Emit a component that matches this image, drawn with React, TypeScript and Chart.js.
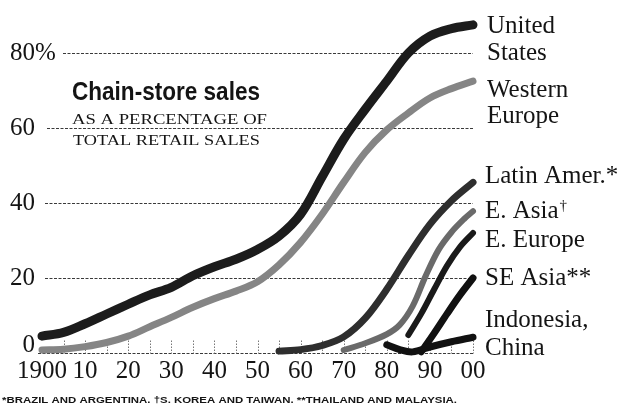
import React, { useEffect, useRef } from "react";
import { Chart, registerables } from "chart.js";

Chart.register(...registerables);

// ---- data (percent of total retail sales) ----
const usYears = [1900, 1905, 1910, 1915, 1920, 1925, 1930, 1935, 1940, 1945, 1950, 1955, 1960, 1965, 1970, 1975, 1980, 1985, 1990, 1995, 2000];
const usValues = [4.5, 5.5, 7.8, 10.4, 13, 15.5, 17.5, 20.6, 23, 25, 27.6, 31.2, 37, 47, 57, 65, 72.5, 80, 84.5, 86.5, 87.5];

const weYears = [1900, 1905, 1910, 1915, 1920, 1925, 1930, 1935, 1940, 1945, 1950, 1955, 1960, 1965, 1970, 1975, 1980, 1985, 1990, 1995, 2000];
const weValues = [0.8, 1, 1.7, 2.8, 4.5, 7, 9.5, 12.2, 14.5, 16.5, 19, 23.5, 29.5, 37, 45.5, 53.5, 59.5, 64, 68, 70.5, 72.5];

const latYears = [1955, 1960, 1965, 1970, 1975, 1980, 1985, 1990, 1995, 2000];
const latValues = [0.5, 0.9, 2, 4.3, 9.3, 17, 26, 34.3, 40.6, 45.5];

const eaYears = [1970, 1975, 1980, 1983, 1986, 1989, 1992, 1995, 1998, 2000];
const eaValues = [0.8, 2.6, 5, 7.5, 12.5, 20.5, 27.5, 32.2, 35.8, 37.8];

const eeYears = [1985, 1988, 1991, 1994, 1997, 2000];
const eeValues = [4.8, 10.5, 17, 23.3, 28.3, 32];

const seaYears = [1988, 1991, 1994, 1997, 2000];
const seaValues = [0.3, 5.3, 10.5, 15.5, 20];

const icYears = [1980, 1983, 1986, 1990, 1995, 2000];
const icValues = [2.2, 0.9, 0.3, 1.6, 3, 4.2];

const yTicks = [0, 20, 40, 60, 80];
const yTickLabels = ["0", "20", "40", "60", "80"];
const xTicks = [1900, 1910, 1920, 1930, 1940, 1950, 1960, 1970, 1980, 1990, 2000];
const xTickLabels = ["1900", "10", "20", "30", "40", "50", "60", "70", "80", "90", "00"];
const minorTicks = [1905, 1910, 1915, 1920, 1925, 1930, 1935, 1940, 1945, 1950, 1955, 1960, 1965, 1970, 1975, 1980, 1985, 1990, 1995, 2000];

const seriesNames = ["United States", "Western Europe", "Latin Amer.*", "E. Asia†", "E. Europe", "SE Asia**", "Indonesia, China"];

const title = "Chain-store sales";
const subtitle1 = "AS A PERCENTAGE OF";
const subtitle2 = "TOTAL RETAIL SALES";
const footnote = "*BRAZIL AND ARGENTINA. †S. KOREA AND TAIWAN. **THAILAND AND MALAYSIA.";

const SERIF = '"Liberation Serif", "Times New Roman", serif';
const INK = "#141414";

function pts(xs: number[], ys: number[]) {
  return xs.map((x, i) => ({ x, y: ys[i] }));
}

function fitText(ctx: CanvasRenderingContext2D, text: string, x: number, y: number, width: number) {
  const w = ctx.measureText(text).width;
  ctx.save();
  ctx.translate(x, y);
  ctx.scale(width / w, 1);
  ctx.textAlign = "left";
  ctx.fillText(text, 0, 0);
  ctx.restore();
}

const decorPlugin = {
  id: "decor",
  beforeDatasetsDraw(chart: any) {
    const ctx: CanvasRenderingContext2D = chart.ctx;
    const xs = chart.scales.x;
    const ys = chart.scales.y;
    const right = xs.getPixelForValue(2000);
    ctx.save();
    // gridlines
    const starts: Record<number, number> = { 0: 38, 20: 45, 40: 45, 60: 47, 80: 63 };
    ctx.strokeStyle = "#3a3a3a";
    ctx.lineWidth = 1;
    ctx.setLineDash([3, 1.5]);
    yTicks.forEach((v) => {
      const y = Math.round(ys.getPixelForValue(v)) + 0.5;
      ctx.beginPath();
      ctx.moveTo(starts[v], y);
      ctx.lineTo(right, y);
      ctx.stroke();
    });
    // minor tick marks along the baseline
    ctx.strokeStyle = "#777";
    ctx.setLineDash([1.5, 1.5]);
    const y0 = Math.round(ys.getPixelForValue(0)) + 0.5;
    minorTicks.forEach((yr) => {
      const x = Math.round(xs.getPixelForValue(yr)) + 0.5;
      ctx.beginPath();
      ctx.moveTo(x, y0 - 13);
      ctx.lineTo(x, y0);
      ctx.stroke();
    });
    ctx.restore();
  },
  afterDraw(chart: any) {
    const ctx: CanvasRenderingContext2D = chart.ctx;
    const xs = chart.scales.x;
    const ys = chart.scales.y;
    ctx.save();
    ctx.fillStyle = INK;
    ctx.textBaseline = "alphabetic";

    // y tick labels
    ctx.font = `25px ${SERIF}`;
    yTicks.forEach((v, i) => {
      const y = ys.getPixelForValue(v);
      ctx.textAlign = "right";
      ctx.textBaseline = v === 0 ? "alphabetic" : "middle";
      ctx.fillText(yTickLabels[i], 35, v === 0 ? y - 1 : y);
      if (v === 80) {
        ctx.textAlign = "left";
        ctx.fillText("%", 35, y);
      }
    });

    // x tick labels
    ctx.textBaseline = "alphabetic";
    ctx.textAlign = "center";
    xTicks.forEach((yr, i) => {
      ctx.fillText(xTickLabels[i], xs.getPixelForValue(yr), 378);
    });

    // series labels at the right
    ctx.textAlign = "left";
    const lx = 485;
    ctx.fillText("United", lx + 2, 33);
    ctx.fillText("States", lx + 2, 60);
    ctx.fillText("Western", lx + 2, 97);
    ctx.fillText("Europe", lx + 2, 123);
    ctx.fillText("Latin Amer.*", lx, 183);
    ctx.fillText("E. Asia", lx, 218);
    const wA = ctx.measureText("E. Asia").width;
    ctx.font = `15px ${SERIF}`;
    ctx.fillText("†", lx + wA + 1, 210);
    ctx.font = `25px ${SERIF}`;
    ctx.fillText("E. Europe", lx, 247);
    ctx.fillText("SE Asia**", lx, 285);
    ctx.fillText("Indonesia,", lx, 327);
    ctx.fillText("China", lx, 355);

    // title block
    ctx.font = `bold 25px "Liberation Sans Narrow", "Liberation Sans", Arial, sans-serif`;
    fitText(ctx, title, 72, 100, 188);
    ctx.font = `15px ${SERIF}`;
    fitText(ctx, subtitle1, 72, 124, 195);
    fitText(ctx, subtitle2, 73, 145, 187);

    // footnote
    ctx.font = `bold 9px "Liberation Sans", Arial, sans-serif`;
    fitText(ctx, footnote, 2, 403, 455);
    ctx.restore();
  },
};

export default function App() {
  const ref = useRef<HTMLCanvasElement | null>(null);
  useEffect(() => {
    if (!ref.current) return;
    const common = {
      fill: false,
      pointRadius: 0,
      borderCapStyle: "round" as const,
      borderJoinStyle: "round" as const,
      tension: 0.35,
      clip: false as const,
    };
    const chart = new Chart(ref.current, {
      type: "line",
      data: {
        datasets: [
          { ...common, label: seriesNames[1], data: pts(weYears, weValues), borderColor: "#858585", borderWidth: 7 },
          { ...common, label: seriesNames[0], data: pts(usYears, usValues), borderColor: "#1c1c1c", borderWidth: 9 },
          { ...common, label: seriesNames[2], data: pts(latYears, latValues), borderColor: "#2e2e2e", borderWidth: 7 },
          { ...common, label: seriesNames[3], data: pts(eaYears, eaValues), borderColor: "#6a6a6a", borderWidth: 6 },
          { ...common, label: seriesNames[4], data: pts(eeYears, eeValues), borderColor: "#1a1a1a", borderWidth: 6 },
          { ...common, label: seriesNames[6], data: pts(icYears, icValues), borderColor: "#111", borderWidth: 7 },
          { ...common, label: seriesNames[5], data: pts(seaYears, seaValues), borderColor: "#111", borderWidth: 7 },
        ],
      },
      options: {
        animation: false,
        responsive: false,
        devicePixelRatio: 1,
        layout: { padding: { left: 42, right: 151, top: 15.5, bottom: 52 } },
        plugins: { legend: { display: false }, tooltip: { enabled: false } },
        scales: {
          x: { type: "linear", min: 1900, max: 2000, display: false },
          y: { type: "linear", min: 0, max: 90, display: false },
        },
      },
      plugins: [decorPlugin],
    });
    return () => chart.destroy();
  }, []);
  return (
    <div style={{ position: "fixed", left: 0, top: 0, width: 624, height: 405, background: "#fff" }}>
      <canvas ref={ref} width={624} height={405} style={{ display: "block" }} />
    </div>
  );
}
